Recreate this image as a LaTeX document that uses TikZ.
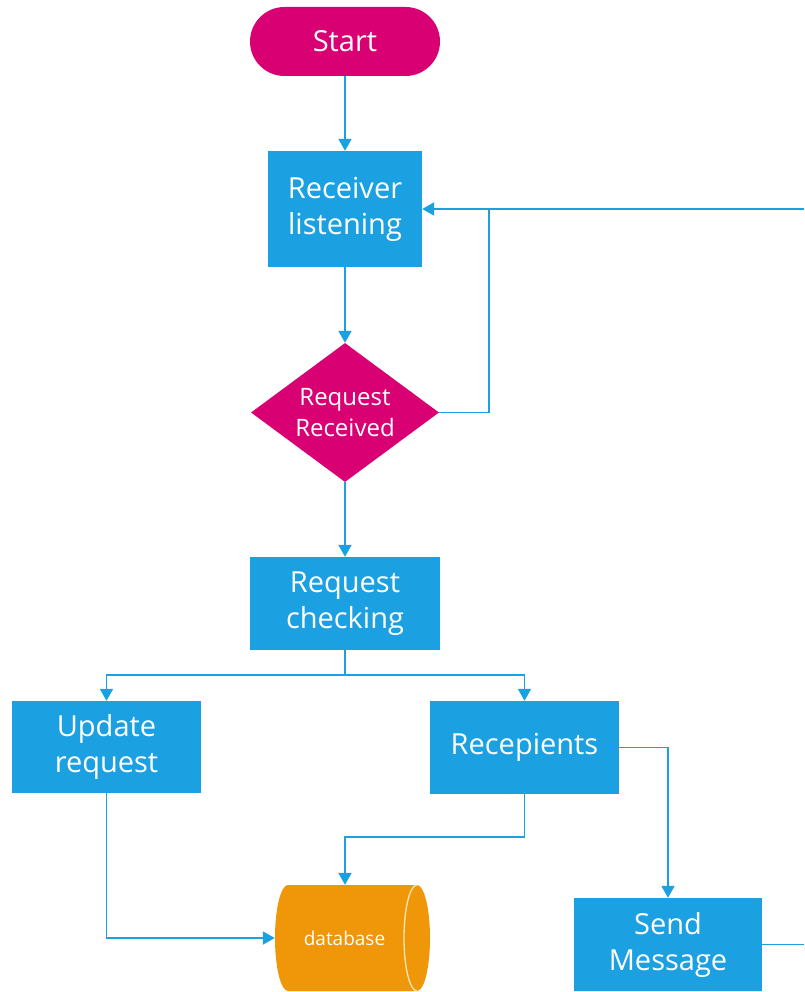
\documentclass[tikz,border=0pt]{standalone}
\usepackage{fontspec}
\setmainfont{Open Sans}
\usetikzlibrary{arrows.meta,shapes.geometric}
\definecolor{flowblue}{HTML}{1BA1E2}
\definecolor{flowmagenta}{HTML}{D80073}
\definecolor{floworange}{HTML}{F09609}
\definecolor{dbedge}{HTML}{FBE6B4}
\tikzset{
  procbox/.style={rectangle, fill=flowblue, text=white, align=center, inner sep=0pt,
    font=\fontsize{29}{36}\selectfont},
  terminal/.style={rectangle, rounded corners=34.5pt, fill=flowmagenta, text=white,
    inner sep=0pt, minimum width=190pt, minimum height=69pt,
    font=\fontsize{29}{36}\selectfont},
  decision/.style={diamond, fill=flowmagenta, text=white, align=center, inner sep=-12pt,
    minimum width=188pt, minimum height=139pt, font=\fontsize{24}{31}\selectfont},
  link/.style={draw=flowblue, line width=1.9pt},
  arrowlink/.style={link, -{Triangle[length=12pt,width=13pt]}},
}
\begin{document}
\begin{tikzpicture}[x=1pt,y=-1pt]
  \fill[white] (0,0) rectangle (804,992);
  \useasboundingbox (0,0) rectangle (804,992);

  % nodes
  \node[terminal] (start) at (345,41.5) {Start};
  \node[procbox, minimum width=154pt, minimum height=116pt] (recv) at (345,209) {Receiver\\listening};
  \node[decision] (dec) at (345,412.5) {Request\\Received};
  \node[procbox, minimum width=190pt, minimum height=93pt] (chk) at (345,603.5) {Request\\checking};
  \node[procbox, minimum width=189pt, minimum height=92pt] (upd) at (106.5,747) {Update\\request};
  \node[procbox, minimum width=189pt, minimum height=93pt] (rec) at (524.5,747.5) {Recepients};
  \node[procbox, minimum width=188pt, minimum height=93pt] (snd) at (668,944.5) {Send\\Message};

  % database cylinder
  \node[rectangle, inner sep=0pt, minimum width=155pt, minimum height=106pt] (db) at (352.5,938) {};
  \fill[floworange] (288,885) -- (417,885) arc (-90:90:13 and 53) -- (288,991) arc (90:270:13 and 53) -- cycle;
  \draw[dbedge, line width=1.3pt] (417,885) arc (270:90:13 and 53);
  \node[text=white, font=\fontsize{19}{21}\selectfont] (dblabel) at ([xshift=-8pt]db.center) {database};

  % loose ends at the right border
  \coordinate (fb) at (489,209);
  \coordinate (rin) at (804,209);
  \coordinate (sout) at (804,944.5);
  \coordinate (split) at (345,675);
  \coordinate (recdown) at (524.5,837);

  % connectors
  \draw[arrowlink] (start) -- (recv);
  \draw[arrowlink] (recv) -- (dec);
  \draw[arrowlink] (dec.east) -| (fb) -- (recv.east);
  \draw[link] (rin) -- (fb);
  \draw[arrowlink] (dec) -- (chk);
  \draw[link] (chk.south) -- (split);
  \draw[arrowlink] (split) -| (upd.north);
  \draw[arrowlink] (split) -| (rec.north);
  \draw[arrowlink] (rec.south) -- (recdown) -| (db.north -| chk.south);
  \draw[arrowlink] (rec.east) -| (snd.north);
  \draw[arrowlink] (upd.south) |- (db.west);
  \draw[link] (snd.east) -- (sout);
\end{tikzpicture}
\end{document}
